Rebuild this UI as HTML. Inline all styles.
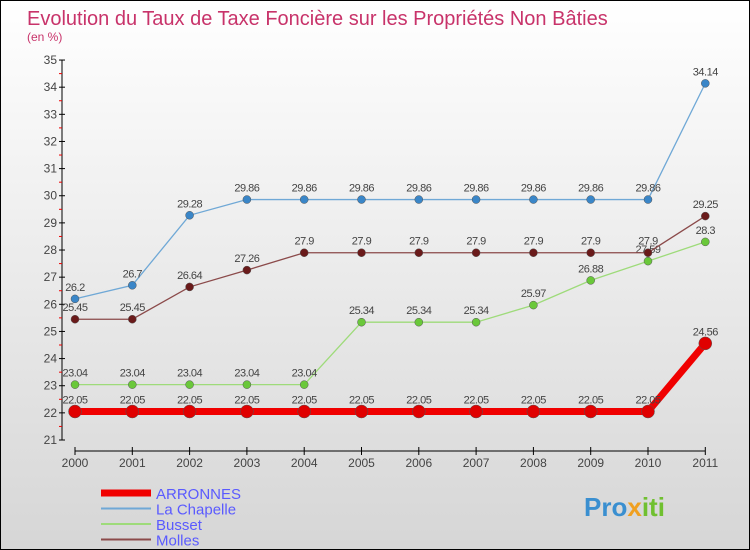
<!DOCTYPE html>
<html><head><meta charset="utf-8"><style>
body{margin:0}
#c{width:748px;height:548px;border:1px solid #000;background:linear-gradient(#fff,#d6d6d6);position:relative;font-family:"Liberation Sans",sans-serif;overflow:hidden}
</style></head><body>
<div id="c">
<svg id="s" width="748" height="548">
<text x="26" y="24" font-size="20" fill="#c8336a">Evolution du Taux de Taxe Foncière sur les Propriétés Non Bâties</text>
<text x="26" y="40" font-size="12" fill="#c8336a">(en %)</text>
<text x="583" y="515" font-size="26" font-weight="bold" fill="#3a8fd0">Pro<tspan fill="#f0a020">x</tspan><tspan fill="#70c030">iti</tspan></text>
</svg>
</div>
<script>
const years=[2000,2001,2002,2003,2004,2005,2006,2007,2008,2009,2010,2011];
const yTicks=[21,22,23,24,25,26,27,28,29,30,31,32,33,34,35];
const arronnes=[22.05,22.05,22.05,22.05,22.05,22.05,22.05,22.05,22.05,22.05,22.05,24.56];
const laChapelle=[26.2,26.7,29.28,29.86,29.86,29.86,29.86,29.86,29.86,29.86,29.86,34.14];
const busset=[23.04,23.04,23.04,23.04,23.04,25.34,25.34,25.34,25.97,26.88,27.59,28.3];
const molles=[25.45,25.45,26.64,27.26,27.9,27.9,27.9,27.9,27.9,27.9,27.9,29.25];
const names=["ARRONNES","La Chapelle","Busset","Molles"];
const NS="http://www.w3.org/2000/svg";
const s=document.getElementById('s');
const xS=i=>74+i*57.3;
const yS=v=>439-(v-21)*27.14;
function el(t,a,p){const e=document.createElementNS(NS,t);for(const k in a)e.setAttribute(k,a[k]);(p||s).appendChild(e);return e;}
// y axis
let ax=el('line',{x1:61,y1:yS(35),x2:61,y2:yS(21),stroke:'#000'});

yTicks.forEach(v=>{el('line',{x1:58,x2:64,y1:yS(v),y2:yS(v),stroke:'#000'});
 if(v<35)el('line',{x1:58,x2:61,y1:yS(v+0.5),y2:yS(v+0.5),stroke:'#e00'});
 const t=el('text',{x:56,y:yS(v)+4,'text-anchor':'end','font-size':12,fill:'#444'});t.textContent=v;
 });
let xa=el('line',{x1:xS(0),x2:xS(11),y1:450,y2:450,stroke:'#000'});

years.forEach((y,i)=>{el('line',{x1:xS(i),x2:xS(i),y1:446,y2:454,stroke:'#000'});
 const t=el('text',{x:xS(i),y:466,'text-anchor':'middle','font-size':12,fill:'#444'});t.textContent=y;
 });
const series=[[laChapelle,'#6fa8d6','#3a86c8',1.3,4,'la-chapelle'],[busset,'#9edb7a','#6ac83a',1.3,4,'busset'],[molles,'#8b4a4a','#6a1a1a',1.3,4,'molles'],[arronnes,'#f00000','#e00000',7,6.5,'arronnes']];
series.forEach(([d,lc,pc,w,r,n])=>{
 const p=el('polyline',{points:d.map((v,i)=>xS(i)+','+yS(v)).join(' '),fill:'none',stroke:lc,'stroke-width':w});
 
 d.forEach((v,i)=>{const c=el('circle',{cx:xS(i),cy:yS(v),r:r,fill:pc,stroke:'#555','stroke-width':0.5});
  
  const t=el('text',{x:xS(i),y:yS(v)-8,'text-anchor':'middle','font-size':11,fill:'#444','letter-spacing':'-0.5'});t.textContent=v;
  });
});
const lg=[['#f00000',7],['#6fa8d6',2],['#9edb7a',2],['#8b4a4a',2]];
names.forEach((n,i)=>{const y=492+i*15.5;
 const l=el('line',{x1:100,x2:150,y1:y,y2:y,stroke:lg[i][0],'stroke-width':lg[i][1]});
 
 const t=el('text',{x:155,y:y+6,'font-size':15,fill:'#5a5aff'});t.textContent=n;
 });
</script>
</body></html>
